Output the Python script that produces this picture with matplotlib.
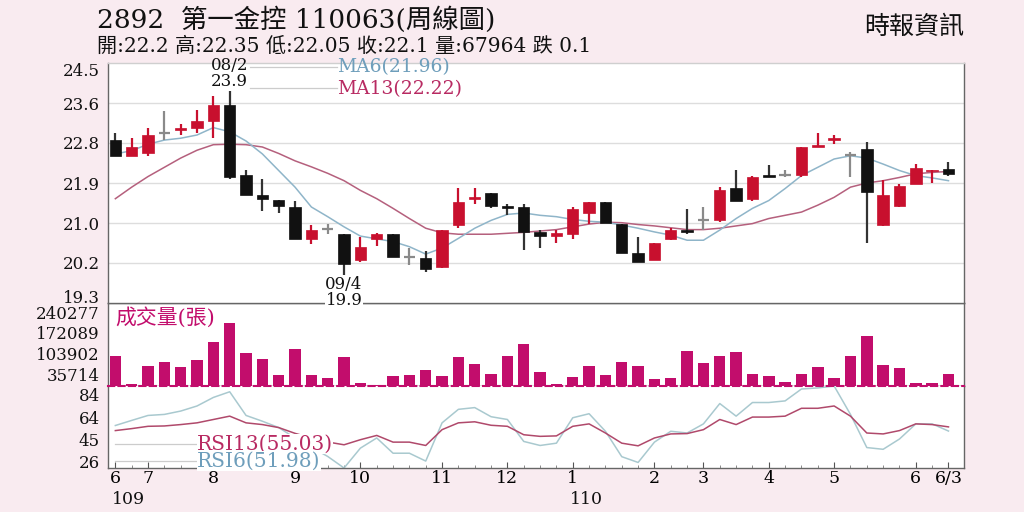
import matplotlib
matplotlib.use("Agg")
import matplotlib.pyplot as plt
import matplotlib.transforms as mtransforms
import numpy as np

# ---------------- data ----------------
opens = [22.83, 22.49, 22.55, 22.99, 23.05, 23.10, 23.24, 23.59, 22.08, 21.63,
         21.54, 21.38, 20.69, 20.90, 20.79, 20.24, 20.69, 20.79, 20.29, 20.28,
         20.08, 21.00, 21.55, 21.69, 21.40, 21.38, 20.83, 20.75, 20.79, 21.24,
         21.49, 21.02, 20.38, 20.24, 20.69, 20.88, 21.09, 21.09, 21.79, 21.55,
         22.08, 22.08, 22.08, 22.69, 22.84, 22.50, 22.63, 21.00, 21.40, 21.88,
         22.15, 22.20]
highs = [22.99, 22.88, 23.10, 23.46, 23.18, 23.49, 23.79, 23.90, 22.18, 21.98,
         21.54, 21.52, 21.00, 21.02, 20.79, 20.74, 20.82, 20.79, 20.49, 20.42,
         20.88, 21.79, 21.79, 21.69, 21.44, 21.44, 20.89, 20.88, 21.38, 21.49,
         21.49, 21.02, 20.74, 20.59, 20.92, 21.33, 21.38, 21.81, 22.18, 22.06,
         22.28, 22.18, 22.68, 22.99, 22.94, 22.58, 22.78, 21.97, 21.88, 22.31,
         22.18, 22.35]
lows = [22.49, 22.49, 22.49, 22.83, 22.94, 22.99, 22.88, 21.99, 21.65, 21.29,
        21.24, 20.69, 20.58, 20.79, 19.90, 20.19, 20.54, 20.29, 20.13, 19.98,
        20.06, 20.92, 21.44, 21.35, 21.20, 20.44, 20.49, 20.59, 20.69, 21.02,
        21.04, 20.39, 20.19, 20.24, 20.67, 20.79, 20.88, 21.06, 21.50, 21.51,
        22.04, 22.04, 22.02, 22.69, 22.74, 22.02, 20.59, 20.97, 21.37, 21.87,
        21.90, 22.05]
closes = [22.49, 22.68, 22.94, 22.99, 23.10, 23.24, 23.59, 22.02, 21.65, 21.55,
          21.40, 20.69, 20.88, 20.90, 20.14, 20.52, 20.79, 20.29, 20.29, 20.04,
          20.88, 21.49, 21.60, 21.40, 21.36, 20.84, 20.75, 20.81, 21.33, 21.49,
          21.04, 20.39, 20.19, 20.59, 20.88, 20.84, 21.09, 21.74, 21.50, 22.02,
          22.04, 22.08, 22.68, 22.73, 22.88, 22.50, 21.70, 21.63, 21.83, 22.22,
          22.18, 22.10]
ma6 = [22.53, 22.60, 22.74, 22.83, 22.87, 22.94, 23.10, 23.01, 22.81, 22.53,
       22.17, 21.81, 21.38, 21.17, 20.95, 20.75, 20.69, 20.63, 20.52, 20.36,
       20.49, 20.70, 20.92, 21.09, 21.22, 21.25, 21.20, 21.17, 21.11, 21.07,
       21.05, 20.99, 20.92, 20.84, 20.77, 20.66, 20.66, 20.88, 21.13, 21.35,
       21.52, 21.78, 22.06, 22.24, 22.42, 22.49, 22.44, 22.31, 22.17, 22.06,
       22.01, 21.95]
ma13 = [21.56, 21.81, 22.04, 22.24, 22.44, 22.61, 22.73, 22.74, 22.73, 22.68,
        22.54, 22.38, 22.25, 22.11, 21.95, 21.74, 21.56, 21.35, 21.13, 20.92,
        20.82, 20.79, 20.79, 20.79, 20.81, 20.83, 20.86, 20.89, 20.95, 21.01,
        21.05, 21.04, 21.00, 20.97, 20.93, 20.89, 20.89, 20.92, 20.97, 21.02,
        21.13, 21.20, 21.27, 21.42, 21.59, 21.81, 21.90, 21.95, 22.02, 22.10,
        22.13, 22.15]
volumes = [97000, 5500, 62400, 77600, 61400, 81800, 141200, 202600, 104400, 86300,
           34600, 119600, 34600, 26800, 92800, 10700, 3200, 32300, 35600, 50700,
           31300, 92800, 71100, 39800, 97000, 134800, 46200, 7400, 29100, 62400,
           36500, 76600, 63700, 23600, 25900, 113100, 73400, 94700, 108900, 37800,
           33300, 12900, 38800, 59100, 26800, 97000, 159300, 66900, 57200, 8700,
           8700, 39800]
rsi6 = [56.8, 61.2, 65.5, 66.4, 69.3, 73.7, 81.1, 86.0, 65.5, 60.5,
        55.0, 46.0, 38.0, 30.0, 20.0, 37.2, 46.0, 32.8, 32.8, 26.0,
        59.1, 70.8, 72.3, 64.4, 62.0, 43.0, 39.5, 41.5, 63.5, 67.0,
        51.8, 29.8, 24.8, 42.4, 51.8, 50.3, 58.2, 75.8, 64.9, 76.7,
        76.7, 78.1, 88.4, 89.3, 91.0, 66.4, 37.7, 36.2, 45.1, 58.2,
        58.2, 52.0]
rsi13 = [52.4, 54.1, 56.1, 56.4, 57.6, 59.1, 62.0, 64.9, 59.1, 57.6,
         55.0, 50.0, 46.0, 42.5, 40.1, 44.5, 48.2, 42.4, 42.4, 39.5,
         53.2, 59.1, 60.0, 57.0, 56.1, 48.8, 47.4, 47.8, 56.1, 58.2,
         50.3, 41.5, 39.2, 46.0, 49.5, 49.8, 53.2, 62.0, 57.6, 64.1,
         64.1, 64.9, 71.7, 71.7, 73.7, 64.9, 50.3, 49.5, 52.4, 58.2,
         57.6, 55.6]

price_ticks = [19.3, 20.1667, 21.0333, 21.9, 22.7667, 23.6333, 24.5]
price_tick_labels = ["19.3", "20.2", "21.0", "21.9", "22.8", "23.6", "24.5"]
vol_ticks = [35714, 103902, 172089, 240277]
vol_tick_labels = ["35714", "103902", "172089", "240277"]
rsi_ticks = [26, 45, 64, 84]
rsi_tick_labels = ["26", "45", "64", "84"]
month_pos = [0, 2, 6, 11, 15, 20, 24, 28, 33, 36, 40, 44, 49, 51]
month_labels = ["6", "7", "8", "9", "10", "11", "12", "1", "2", "3", "4", "5", "6", "6/3"]
year_pos = [0, 28]
year_labels = ["109", "110"]

title1 = "2892  第一金控 110063(周線圖)"
title2 = "開:22.2 高:22.35 低:22.05 收:22.1 量:67964 跌 0.1"
source = "時報資訊"
ma6_label = "MA6(21.96)"
ma13_label = "MA13(22.22)"
rsi13_label = "RSI13(55.03)"
rsi6_label = "RSI6(51.98)"
vol_label = "成交量(張)"
high_date, high_val = "08/2", "23.9"
low_date, low_val = "09/4", "19.9"
high_idx, low_idx = 7, 14

# ---------------- style ----------------
FONT = ["DejaVu Serif", "Noto Sans CJK TC", "DejaVu Sans"]
plt.rcParams["font.family"] = FONT
BG = "#f9ebf0"
RED = "#c8102e"
BLACK = "#111111"
GRAY = "#8a8a8a"
C_MA6 = "#8fb5c9"
C_MA13 = "#b5607d"
C_MA6_T = "#6e9ebb"
C_MA13_T = "#b82a62"
C_VOL = "#c20d6c"
C_RSI6 = "#a9c9cf"
C_RSI13 = "#b0496b"
SPINE = "#666666"

fig = plt.figure(figsize=(10.24, 5.12), dpi=100, facecolor=BG)
L, W = 108 / 1024, 856 / 1024


def fy(px):
    return 1 - px / 512


ax1 = fig.add_axes([L, fy(303), W, fy(63) - fy(303)])
ax2 = fig.add_axes([L, fy(386), W, fy(303) - fy(386)])
ax3 = fig.add_axes([L, fy(468), W, fy(386) - fy(468)])
ax1.set_zorder(3)

n = len(closes)
x = np.arange(n)
xlim = (-0.45, n - 0.05)

for ax in (ax1, ax2, ax3):
    ax.set_facecolor("white")
    ax.set_xlim(*xlim)
    for s in ax.spines.values():
        s.set_color(SPINE)
        s.set_linewidth(1.0)
    ax.tick_params(axis="y", length=0, pad=6, labelsize=12, colors="#111111")
    ax.set_xticks([])


def shift(label, dy_pt):
    label.set_transform(label.get_transform() +
                        mtransforms.ScaledTranslation(0, dy_pt / 72, fig.dpi_scale_trans))


# ---------- price panel ----------
ax1.set_ylim(19.3, 24.5)
ax1.set_yticks(price_ticks)
ax1.set_yticklabels(price_tick_labels)
ax1.spines["top"].set_color("#cfcfcf")
for t in price_ticks[1:-1]:
    ax1.axhline(t, color="#dddddd", lw=1.0, zorder=0)

ax1.plot(x, ma13, color=C_MA13, lw=1.1, zorder=2)
ax1.plot(x, ma6, color=C_MA6, lw=1.1, zorder=2)

bw = 0.7
for i in range(n):
    o, h, l, c = opens[i], highs[i], lows[i], closes[i]
    if abs(c - o) < 1e-9:
        col = GRAY
    elif c > o:
        col = RED
    else:
        col = BLACK
    wick_col = col if col != BLACK else "#333333"
    ax1.vlines(i, l, h, color=wick_col, lw=1.6, zorder=3)
    if col == GRAY:
        ax1.hlines(c, i - bw / 2, i + bw / 2, color=GRAY, lw=1.6, zorder=4)
    else:
        bottom = min(o, c)
        height = max(abs(c - o), 0.03)
        ax1.bar(i, height, bottom=bottom, width=bw, color=col,
                edgecolor=col, lw=0.5, zorder=4)

# high / low annotations
ann_kw = dict(ha="center", fontsize=12, color="#111111", zorder=10,
              annotation_clip=False)
ax1.annotate(high_val, xy=(high_idx, highs[high_idx]), xytext=(0, 0.5),
             textcoords="offset points", va="bottom", **ann_kw)
ax1.annotate(high_date, xy=(high_idx, highs[high_idx]), xytext=(0, 12.3),
             textcoords="offset points", va="bottom", **ann_kw)
ax1.annotate(low_date, xy=(low_idx, lows[low_idx]), xytext=(0, -0.5),
             textcoords="offset points", va="top", **ann_kw)
ax1.annotate(low_val, xy=(low_idx, lows[low_idx]), xytext=(0, -12.0),
             textcoords="offset points", va="top",
             bbox=dict(facecolor="white", edgecolor="none", pad=0.1), **ann_kw)

# MA legend
ax1.plot([0.166, 0.2675], [0.985, 0.985], transform=ax1.transAxes,
         color="#cccccc", lw=0.9, zorder=1)
ax1.plot([0.166, 0.2675], [0.896, 0.896], transform=ax1.transAxes,
         color="#cccccc", lw=0.9, zorder=1)
ax1.text(0.2675, 0.982, ma6_label, transform=ax1.transAxes, va="center",
         ha="left", fontsize=13.5, color=C_MA6_T, zorder=10)
ax1.text(0.2675, 0.893, ma13_label, transform=ax1.transAxes, va="center",
         ha="left", fontsize=13.5, color=C_MA13_T, zorder=10)

# ---------- volume panel ----------
ax2.set_ylim(0, 265000)
ax2.set_yticks(vol_ticks)
ax2.set_yticklabels(vol_tick_labels)
ax2.bar(x, volumes, width=0.7, color=C_VOL, zorder=3)
ax2.text(0.008, 0.83, vol_label, transform=ax2.transAxes, ha="left",
         va="center", fontsize=15, color=C_VOL, zorder=10)

# ---------- RSI panel ----------
ax3.set_ylim(20, 91)
ax3.set_yticks(rsi_ticks)
ax3.set_yticklabels(rsi_tick_labels)
ax3.spines["top"].set_color(C_VOL)
ax3.spines["top"].set_linestyle((0, (3, 2)))
ax3.spines["top"].set_linewidth(1.5)
ax3.plot(x, rsi6, color=C_RSI6, lw=1.1, zorder=2)
ax3.plot(x, rsi13, color=C_RSI13, lw=1.1, zorder=2)
ax3.plot([0.008, 0.104], [0.293, 0.293], transform=ax3.transAxes,
         color="#cccccc", lw=0.9, zorder=3)
ax3.plot([0.008, 0.104], [0.085, 0.085], transform=ax3.transAxes,
         color="#cccccc", lw=0.9, zorder=3)
ax3.text(0.104, 0.293, rsi13_label, transform=ax3.transAxes, ha="left",
         va="center", fontsize=14.5, color=C_MA13_T, zorder=10,
         bbox=dict(facecolor="white", edgecolor="none", pad=0.1))
ax3.text(0.104, 0.085, rsi6_label, transform=ax3.transAxes, ha="left",
         va="center", fontsize=14.5, color=C_MA6_T, zorder=10,
         bbox=dict(facecolor="white", edgecolor="none", pad=0.1))

ax3.set_xticks(month_pos)
ax3.set_xticklabels(month_labels)
ax3.set_xticks(x, minor=True)
ax3.tick_params(axis="x", which="major", direction="in", length=4,
                color="#555555", labelsize=12.5, pad=1.5)
ax3.tick_params(axis="x", which="minor", direction="in", length=2,
                color="#777777")
trans = mtransforms.blended_transform_factory(ax3.transData, fig.transFigure)
for p, lab in zip(year_pos, year_labels):
    ax3.text(p - 0.2, fy(499.5), lab, transform=trans, ha="left", va="center",
             fontsize=12.5, color="#111111")

# nudge end labels like the reference
for lab in ax1.get_yticklabels():
    if lab.get_text() == price_tick_labels[0]:
        shift(lab, 5.0)
    elif lab.get_text() == price_tick_labels[-1]:
        shift(lab, -5.0)
for lab in ax2.get_yticklabels():
    if lab.get_text() == vol_tick_labels[-1]:
        shift(lab, -1.5)

# ---------- header ----------
fig.text(97 / 1024, fy(20), title1, ha="left", va="center", fontsize=19,
         color="#111111")
fig.text(97 / 1024, fy(46.5), title2, ha="left", va="center", fontsize=14.5,
         color="#111111")
fig.text(964 / 1024, fy(27), source, ha="right", va="center", fontsize=18,
         color="#111111")

fig.savefig("out.png", dpi=100, facecolor=BG)
